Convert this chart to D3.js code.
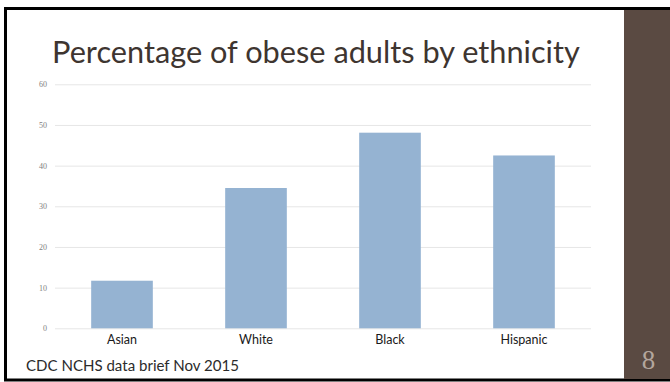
<!DOCTYPE html>
<html>
<head>
<meta charset="utf-8">
<script src="https://cdn.jsdelivr.net/npm/d3@7/dist/d3.min.js"></script>
<style>
  body { margin: 0; background: #fff; }
  svg { display: block; }
</style>
</head>
<body>
<svg id="chart" width="670" height="382"></svg>
<script>
const categories = ['Asian', 'White', 'Black', 'Hispanic'];
const obesePct = [11.7, 34.5, 48.1, 42.5];
const yTicks = [0, 10, 20, 30, 40, 50, 60];
const titleText = 'Percentage of obese adults by ethnicity';
const sourceText = 'CDC NCHS data brief Nov 2015';
const slideNumber = '8';

const width = 670;
const height = 382;
const plotLeft = 55;
const plotRight = 591;
const plotTop = 84.3;
const plotBottom = 328.3;

const svg = d3.select('#chart');

// slide frame
svg.append('rect')
  .attr('x', 0).attr('y', 0)
  .attr('width', width).attr('height', height)
  .attr('fill', '#fff');
svg.append('rect')
  .attr('x', 5.5).attr('y', 8.5)
  .attr('width', width).attr('height', 371.5)
  .attr('fill', 'none')
  .attr('stroke', '#000')
  .attr('stroke-width', 3);
svg.append('rect')
  .attr('x', 624).attr('y', 10)
  .attr('width', 46).attr('height', 369)
  .attr('fill', '#5a4a42');

function fitText(sel, target) {
  const node = sel.node();
  const size = parseFloat(sel.attr('font-size'));
  const w = node.getComputedTextLength();
  sel.attr('font-size', (size * target / w).toFixed(2));
}

const xScale = d3.scaleBand()
  .domain(categories)
  .range([plotLeft, plotRight])
  .paddingInner(0.54)
  .paddingOuter(0.27);

const yScale = d3.scaleLinear()
  .domain([0, 60])
  .range([plotBottom, plotTop]);

// gridlines + y labels
const yAxis = d3.axisLeft(yScale)
  .tickValues(yTicks)
  .tickSize(-(plotRight - plotLeft))
  .tickPadding(8);
const yg = svg.append('g')
  .attr('transform', `translate(${plotLeft},0)`)
  .call(yAxis);
yg.select('.domain').remove();
yg.selectAll('line')
  .attr('stroke', '#e6e6e6')
  .attr('stroke-width', 1);
yg.selectAll('text')
  .attr('font-family', '"Liberation Serif", serif')
  .attr('font-size', 8)
  .attr('fill', '#808080');

// bars
svg.append('g')
  .selectAll('rect')
  .data(categories)
  .join('rect')
  .attr('x', (d) => xScale(d))
  .attr('y', (d, i) => yScale(obesePct[i]))
  .attr('width', xScale.bandwidth())
  .attr('height', (d, i) => yScale(0) - yScale(obesePct[i]))
  .attr('fill', '#95b3d2');

// category labels
const xAxis = d3.axisBottom(xScale)
  .tickSize(0)
  .tickPadding(7);
const xg = svg.append('g')
  .attr('transform', `translate(0,${plotBottom})`)
  .call(xAxis);
xg.select('.domain').remove();
xg.selectAll('text')
  .attr('font-family', 'Lato, "DejaVu Sans", sans-serif')
  .attr('font-size', 12.5)
  .attr('fill', '#1a1a1a');

// title
const title = svg.append('text')
  .attr('x', 52)
  .attr('y', 63)
  .attr('font-family', 'Lato, "DejaVu Sans", sans-serif')
  .attr('font-size', 28)
  .attr('fill', '#3e3530')
  .text(titleText);
fitText(title, 528);

// source note
const source = svg.append('text')
  .attr('x', 26)
  .attr('y', 371)
  .attr('font-family', 'Lato, "DejaVu Sans", sans-serif')
  .attr('font-size', 13)
  .attr('fill', '#2b2b2b')
  .text(sourceText);
fitText(source, 213);

// slide number
svg.append('text')
  .attr('x', 648.5)
  .attr('y', 369)
  .attr('text-anchor', 'middle')
  .attr('font-family', '"Liberation Serif", serif')
  .attr('font-size', 27)
  .attr('fill', '#b3a69d')
  .text(slideNumber);
</script>
</body>
</html>
